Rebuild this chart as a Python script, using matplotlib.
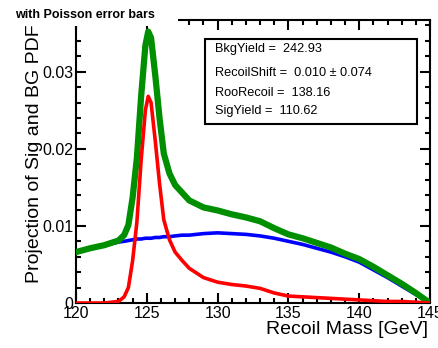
import matplotlib
matplotlib.use("Agg")
import matplotlib.pyplot as plt
from matplotlib.patches import Rectangle
from matplotlib.ticker import MultipleLocator

plt.rcParams['font.family'] = ['Liberation Sans', 'DejaVu Sans']

# recoil mass grid [GeV]
mass = [120, 121, 122, 122.5, 123, 123.4, 123.7, 124, 124.3, 124.6, 124.9, 125.1,
        125.3, 125.6, 125.9, 126.2, 126.6, 127, 127.5, 128, 129, 130, 131, 132,
        133, 134, 135, 136, 137, 138, 139, 140, 141, 142, 143, 144, 145]

# background pdf (blue)
bkg = [0.0066, 0.0071, 0.0075, 0.0077, 0.0079, 0.0080, 0.0081, 0.0082, 0.0083, 0.0083,
       0.0084, 0.0084, 0.0084, 0.0085, 0.0085, 0.0086, 0.0086, 0.0087, 0.0088, 0.0088,
       0.0090, 0.0091, 0.0090, 0.0089, 0.0087, 0.0084, 0.0080, 0.0076, 0.0071, 0.0066,
       0.0060, 0.0053, 0.0043, 0.0033, 0.0022, 0.0011, 0.0]

# signal pdf (red)
sig = [0.0, 0.0, 0.0, 0.0001, 0.0002, 0.0008, 0.0020, 0.0055, 0.0105, 0.0185,
       0.0250, 0.0268, 0.0260, 0.0210, 0.0155, 0.0108, 0.0082, 0.0066, 0.0055, 0.0045,
       0.0033, 0.0027, 0.0024, 0.0022, 0.0019, 0.0013, 0.0009, 0.0008, 0.0007, 0.0006,
       0.0005, 0.0004, 0.0003, 0.0002, 0.0002, 0.0001, 0.0]

# total pdf (green)
total = [0.0066, 0.0071, 0.0075, 0.0078, 0.0081, 0.0088, 0.0101, 0.0137, 0.0188, 0.0268,
         0.0334, 0.0352, 0.0344, 0.0295, 0.0240, 0.0194, 0.0168, 0.0153, 0.0143, 0.0133,
         0.0124, 0.0120, 0.0115, 0.0111, 0.0106, 0.0097, 0.0089, 0.0084, 0.0078, 0.0072,
         0.0064, 0.0057, 0.0047, 0.0036, 0.0025, 0.0013, 0.0]

params = ["BkgYield =  242.93",
          "RecoilShift =  0.010 \u00b1 0.074",
          "RooRecoil =  138.16",
          "SigYield =  110.62"]

fig = plt.figure(figsize=(4.38, 3.48), dpi=100)
ax = fig.add_axes([0.1735, 0.1293, 0.8082, 0.8132])

ax.plot(mass, bkg, color='#0000ff', lw=2.6, zorder=2)
ax.plot(mass, total, color='#008f00', lw=4.5, zorder=3, solid_joinstyle='round')
ax.plot(mass, sig, color='#ff0000', lw=2.6, zorder=4)

ax.set_xlim(120, 145)
ax.set_ylim(0, 0.0367)
ax.xaxis.set_major_locator(MultipleLocator(5))
ax.xaxis.set_minor_locator(MultipleLocator(1))
ax.yaxis.set_major_locator(MultipleLocator(0.01))
ax.yaxis.set_minor_locator(MultipleLocator(0.002))
ax.set_yticks([0, 0.01, 0.02, 0.03])
ax.set_yticklabels(['0', '0.01', '0.02', '0.03'])
ax.tick_params(which='both', direction='in', top=True, right=True, width=1.5,
               labelsize=11.5, pad=2)
ax.tick_params(which='major', length=7)
ax.tick_params(which='minor', length=3.6)
for s in ax.spines.values():
    s.set_linewidth(1.5)

fig.text(428 / 438, 1 - 330 / 348, "Recoil Mass [GeV]", ha='right', va='center', fontsize=14)
fig.text(35 / 438, 1 - 283 / 348, "Projection of Sig and BG PDF's", rotation=90,
         ha='center', va='bottom', fontsize=14, zorder=1)

# parameter box
box = Rectangle((205 / 438, 1 - 124 / 348), 212 / 438, 85 / 348, transform=fig.transFigure,
                facecolor='white', edgecolor='black', lw=1.5, zorder=5)
fig.add_artist(box)
for txt, yp in zip(params, [49, 73, 93, 111]):
    fig.text(215 / 438, 1 - yp / 348, txt, ha='left', va='center', fontsize=9.2, zorder=6)

# title pad
pad = Rectangle((0, 1 - 26 / 348), 178 / 438, 26 / 348, transform=fig.transFigure,
                facecolor='white', edgecolor='none', zorder=5)
fig.add_artist(pad)
fig.text(15 / 438, 1 - 15 / 348, "with Poisson error bars", ha='left', va='center',
         fontsize=9, fontweight='bold', zorder=6)

fig.savefig("out.png", dpi=100)
